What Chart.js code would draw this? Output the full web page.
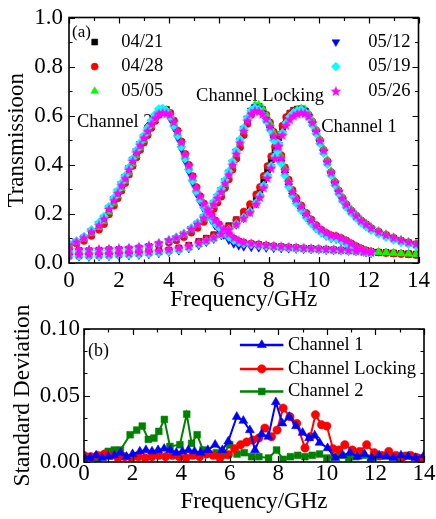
<!DOCTYPE html>
<html><head><meta charset="utf-8">
<script src="https://cdn.jsdelivr.net/npm/chart.js@4.4.1/dist/chart.umd.min.js"></script>
<style>
html,body{margin:0;padding:0;background:#fff;}
#w1{position:absolute;left:0;top:0;width:436px;height:316px;}
#w2{position:absolute;left:0;top:294px;width:436px;height:225px;}
canvas{display:block;}
</style></head><body>
<div id="w1"><canvas id="c1" width="436" height="316"></canvas></div>
<div id="w2"><canvas id="c2" width="436" height="225"></canvas></div>
<script>
// ---------------- DATA: panel (a) ----------------
const dates = ['04/21','04/28','05/05','05/12','05/19','05/26'];
const xTicksA = [0,2,4,6,8,10,12,14];
const yTicksA = [0,0.2,0.4,0.6,0.8,1.0];

const freqCh2 = [0,.3,.6,.9,1.2,1.4,1.6,1.8,1.95,2.1,2.25,2.4,2.55,2.7,2.85,3,3.15,3.3,3.45,3.6,3.75,3.9,4.05,4.2,4.35,4.5,4.65,4.8,4.95,5.1,5.25,5.4,5.55,5.7,5.85,6,6.2,6.4,6.6,6.8,7,7.3,7.6,7.9,8.2,8.5,8.8,9.1,9.4,9.7,10,10.3,10.6,10.9,11.2,11.5,11.8,12.1,12.4,12.7,13,13.3,13.6,13.9];
const freqLock = [0,.4,.8,1.2,1.6,2,2.4,2.8,3.2,3.6,4,4.3,4.6,4.9,5.15,5.4,5.6,5.8,5.95,6.1,6.25,6.4,6.55,6.7,6.85,7,7.15,7.3,7.45,7.6,7.75,7.9,8.05,8.2,8.35,8.5,8.65,8.8,8.95,9.1,9.3,9.5,9.7,9.9,10.1,10.3,10.5,10.7,10.9,11.1,11.3,11.5,11.7,11.9,12.1,12.4,12.7,13,13.3,13.6,13.9];
const freqCh1 = [0,.4,.8,1.2,1.6,2,2.4,2.8,3.2,3.6,4,4.4,4.8,5.2,5.5,5.8,6.1,6.4,6.7,7,7.25,7.5,7.65,7.8,7.95,8.1,8.25,8.4,8.55,8.7,8.85,9,9.15,9.3,9.45,9.6,9.75,9.9,10.05,10.2,10.35,10.5,10.65,10.8,10.95,11.1,11.3,11.5,11.7,11.9,12.1,12.4,12.7,13,13.3,13.6,13.9];

// Channel 2
const ch2_0421 = [.072,.082,.095,.116,.14,.165,.203,.238,.27,.298,.33,.362,.398,.433,.465,.494,.525,.555,.582,.606,.62,.625,.61,.578,.536,.492,.442,.395,.352,.306,.27,.24,.214,.192,.172,.156,.135,.114,.098,.088,.082,.078,.075,.071,.068,.066,.064,.062,.06,.059,.057,.056,.054,.053,.051,.049,.048,.046,.044,.043,.041,.039,.038,.036];
const ch2_0428 = [.07,.08,.09,.11,.135,.158,.198,.233,.263,.294,.325,.36,.395,.43,.46,.49,.52,.55,.578,.603,.615,.618,.612,.58,.54,.496,.445,.4,.354,.31,.273,.243,.216,.195,.174,.158,.136,.115,.1,.089,.083,.079,.076,.072,.069,.066,.064,.062,.06,.058,.057,.055,.053,.052,.05,.049,.047,.045,.043,.042,.04,.038,.037,.035];
const ch2_0505 = [.073,.083,.097,.12,.145,.17,.208,.244,.274,.304,.334,.368,.404,.438,.469,.5,.53,.56,.586,.61,.622,.624,.607,.573,.533,.49,.44,.393,.348,.303,.267,.237,.211,.19,.17,.154,.133,.112,.097,.087,.081,.078,.074,.071,.068,.065,.063,.061,.06,.058,.056,.055,.054,.052,.05,.048,.047,.045,.044,.042,.041,.039,.038,.036];
const ch2_0512 = [.078,.088,.105,.132,.16,.186,.226,.262,.292,.322,.352,.387,.422,.456,.486,.515,.545,.574,.598,.62,.626,.615,.588,.552,.51,.465,.416,.372,.327,.283,.249,.219,.195,.174,.152,.136,.114,.093,.078,.07,.066,.064,.062,.061,.06,.059,.058,.057,.056,.055,.054,.052,.051,.05,.048,.047,.045,.043];
const ch2_0519 = [.08,.09,.108,.136,.165,.19,.23,.266,.296,.326,.356,.39,.425,.46,.49,.52,.55,.58,.605,.628,.63,.62,.594,.558,.518,.473,.424,.38,.335,.29,.256,.226,.2,.18,.16,.145,.125,.106,.092,.083,.078,.075,.071,.068,.066,.064,.062,.06,.059,.057,.056,.054,.053,.051,.049,.048,.046,.044];
const ch2_0526 = [.076,.087,.103,.128,.154,.18,.22,.255,.285,.316,.345,.38,.415,.45,.48,.51,.538,.566,.59,.608,.612,.61,.605,.575,.537,.492,.442,.397,.352,.307,.272,.242,.218,.197,.176,.16,.14,.12,.104,.092,.085,.08,.076,.073,.07,.068,.066,.064,.062,.06,.059,.057,.056,.054,.052,.05,.048,.046];

// Channel Locking
const lock_0421 = [.05,.051,.05,.052,.054,.055,.057,.061,.067,.076,.087,.097,.111,.13,.15,.174,.198,.227,.252,.277,.311,.346,.386,.43,.476,.526,.572,.61,.632,.638,.625,.6,.567,.527,.483,.433,.382,.332,.291,.26,.23,.2,.174,.151,.133,.12,.11,.106,.099,.09,.078,.067,.058,.051,.046,.043,.041,.039,.037,.035,.033];
const lock_0428 = [.049,.05,.05,.051,.052,.054,.056,.059,.064,.072,.083,.092,.105,.123,.143,.167,.19,.22,.245,.27,.305,.34,.38,.424,.47,.52,.566,.603,.625,.63,.625,.605,.573,.535,.49,.44,.39,.34,.298,.266,.235,.205,.178,.155,.136,.123,.113,.11,.102,.092,.08,.069,.06,.052,.047,.044,.041,.039,.037,.035,.033];
const lock_0505 = [.051,.05,.052,.053,.054,.056,.059,.063,.069,.079,.09,.1,.115,.135,.155,.18,.205,.235,.26,.286,.321,.357,.397,.443,.49,.54,.588,.625,.645,.645,.632,.606,.57,.53,.485,.435,.384,.333,.292,.262,.231,.2,.175,.152,.134,.121,.111,.108,.1,.091,.079,.068,.059,.051,.047,.045,.043,.041,.039,.037,.035];
const lock_0512 = [.047,.047,.048,.049,.05,.052,.055,.059,.066,.077,.09,.102,.118,.14,.162,.188,.214,.246,.272,.298,.334,.37,.41,.455,.5,.548,.59,.622,.636,.63,.61,.582,.545,.505,.46,.41,.362,.313,.275,.245,.215,.186,.162,.14,.123,.11,.1,.097,.088,.078,.066,.056,.048,.042,.039];
const lock_0519 = [.048,.049,.05,.05,.052,.054,.057,.061,.068,.08,.093,.105,.121,.143,.165,.192,.218,.25,.276,.302,.338,.374,.414,.458,.503,.55,.592,.622,.632,.625,.606,.578,.542,.5,.455,.405,.357,.31,.272,.243,.214,.185,.161,.14,.123,.111,.101,.098,.09,.08,.069,.058,.05,.044,.04];
const lock_0526 = [.055,.056,.056,.057,.058,.06,.062,.066,.072,.082,.094,.104,.119,.139,.159,.184,.209,.24,.265,.29,.325,.36,.4,.445,.49,.538,.58,.608,.62,.618,.607,.587,.556,.518,.475,.427,.378,.33,.29,.26,.23,.2,.175,.153,.136,.123,.113,.11,.101,.091,.08,.068,.058,.05,.045];

// Channel 1
const ch1_0421 = [.029,.03,.031,.031,.033,.035,.037,.039,.043,.047,.053,.061,.072,.088,.101,.115,.131,.152,.176,.204,.23,.266,.297,.338,.378,.419,.46,.51,.552,.588,.61,.622,.627,.627,.618,.598,.568,.534,.494,.454,.41,.366,.326,.291,.261,.236,.211,.19,.171,.156,.141,.126,.113,.101,.091,.083,.076];
const ch1_0428 = [.031,.031,.03,.032,.033,.035,.037,.04,.042,.046,.052,.06,.07,.086,.099,.112,.128,.148,.175,.21,.24,.28,.31,.355,.395,.435,.475,.52,.56,.595,.61,.62,.625,.628,.622,.604,.576,.541,.501,.461,.416,.371,.331,.296,.266,.24,.215,.194,.174,.158,.143,.128,.115,.103,.092,.084,.077];
const ch1_0505 = [.03,.031,.03,.031,.032,.033,.035,.038,.04,.044,.049,.055,.063,.076,.088,.1,.115,.134,.157,.183,.208,.243,.273,.313,.353,.393,.433,.482,.528,.568,.596,.613,.624,.629,.627,.61,.58,.546,.506,.466,.42,.375,.335,.3,.27,.244,.219,.198,.178,.162,.147,.131,.118,.105,.095,.086,.079];
const ch1_0512 = [.024,.025,.024,.026,.027,.028,.03,.032,.035,.039,.044,.05,.059,.072,.084,.097,.112,.132,.155,.182,.207,.242,.272,.312,.352,.392,.432,.482,.527,.567,.594,.61,.62,.626,.62,.597,.566,.53,.49,.45,.405,.36,.32,.285,.255,.23,.206,.186,.166,.151,.136,.121,.108,.096,.086,.078,.071];
const ch1_0519 = [.027,.028,.027,.028,.029,.031,.033,.035,.038,.042,.047,.054,.063,.077,.089,.101,.116,.136,.159,.186,.211,.246,.276,.316,.356,.396,.436,.486,.531,.571,.597,.612,.621,.625,.615,.593,.562,.527,.487,.447,.402,.357,.317,.282,.252,.227,.203,.183,.163,.148,.133,.118,.105,.094,.084,.076,.069];
const ch1_0526 = [.034,.035,.035,.036,.037,.039,.041,.043,.046,.05,.055,.061,.069,.082,.093,.105,.119,.137,.158,.183,.206,.24,.268,.307,.346,.386,.426,.476,.521,.561,.585,.6,.608,.612,.61,.598,.572,.538,.499,.459,.414,.369,.329,.294,.264,.239,.214,.193,.173,.158,.143,.128,.115,.103,.093,.085,.078];

// ---------------- DATA: panel (b) ----------------
const xTicksB = [0,2,4,6,8,10,12,14];
const yTicksB = [0,0.05,0.10];
const sdSeries = ['Channel 1','Channel Locking','Channel 2'];
const sdFreqCh1 = [0,.25,.5,.75,1,1.25,1.5,1.75,2,2.3,2.55,2.8,3.05,3.3,3.55,3.8,4.05,4.3,4.55,4.8,5.1,5.4,5.7,5.94,6.29,6.56,6.83,7.04,7.31,7.59,7.9,8.17,8.45,8.73,9,9.27,9.5,9.7,10.03,10.35,10.65,10.95,11.25,11.55,11.85,12.15,12.45,12.75,13.05,13.35,13.65,14];
const sdCh1 = [.004,.003,.005,.003,.004,.005,.007,.004,.006,.008,.009,.008,.009,.01,.009,.007,.008,.009,.008,.007,.009,.013,.009,.0155,.034,.031,.024,.009,.021,.019,.045,.029,.034,.027,.022,.018,.02,.0145,.0105,.003,.005,.007,.004,.006,.003,.005,.004,.003,.005,.004,.003,.005];
const sdFreqLock = [0,.28,.56,.84,1.12,1.4,1.68,1.96,2.24,2.52,2.8,3.08,3.36,3.64,3.92,4.2,4.48,4.76,5.04,5.32,5.6,5.95,6.2,6.45,6.7,6.95,7.2,7.45,7.72,7.95,8.2,8.48,8.76,9.1,9.32,9.53,9.78,10,10.25,10.5,10.74,11.05,11.35,11.64,11.95,12.25,12.55,12.85,13.15,13.45,13.75,14];
const sdLock = [.005,.004,.005,.006,.005,.003,.004,.003,.004,.003,.004,.005,.004,.005,.004,.003,.005,.004,.006,.005,.003,.0055,.01,.013,.015,.0165,.018,.0255,.019,.024,.0405,.034,.029,.0105,.019,.0355,.028,.027,.01,.009,.013,.009,.008,.013,.007,.005,.008,.005,.004,.005,.003,.002];
const sdFreqCh2 = [0,.28,.56,.8,1,1.25,1.5,1.9,2.17,2.4,2.65,2.88,3.08,3.31,3.54,3.95,4.23,4.43,4.66,4.9,5.15,5.46,5.72,6,6.3,6.6,6.9,7.2,7.6,7.93,8.2,8.5,8.8,9.1,9.4,9.7,10,10.3,10.6,10.9,11.2,11.5,11.8,12.1,12.4,12.7,13,13.3,13.6,13.9];
const sdCh2 = [.003,.004,.003,.005,.008,.009,.009,.0205,.024,.027,.017,.018,.023,.032,.0117,.013,.036,.014,.0205,.009,.006,.007,.005,.013,.006,.007,.004,.004,.003,.009,.002,.004,.005,.004,.005,.006,.003,.004,.005,.003,.004,.005,.003,.004,.005,.004,.003,.005,.004,.003];

// ---------------- STYLE ----------------
const SERIF = '"Liberation Serif", "Times New Roman", serif';
function makeStar(color) {
  const c = document.createElement('canvas');
  c.width = 12; c.height = 12;
  const g = c.getContext('2d');
  g.fillStyle = color;
  g.beginPath();
  for (let k = 0; k < 10; k++) {
    const r = k % 2 === 0 ? 5.6 : 2.4;
    const a = -Math.PI / 2 + k * Math.PI / 5;
    const px = 6 + r * Math.cos(a), py = 6.4 + r * Math.sin(a);
    if (k === 0) g.moveTo(px, py); else g.lineTo(px, py);
  }
  g.closePath(); g.fill();
  return c;
}
const starImg = makeStar('#ff00ff');
const dateStyle = [
  {color:'#000000', style:'rect', rot:0, r:4.2},
  {color:'#ff0000', style:'circle', rot:0, r:3.5},
  {color:'#00ff00', style:'triangle', rot:0, r:4.4},
  {color:'#0000ff', style:'triangle', rot:180, r:4.4},
  {color:'#00ffff', style:'rectRot', rot:0, r:4.4},
  {color:'#ff00ff', style:starImg, rot:0, r:6},
];
const ch2ByDate = [ch2_0421, ch2_0428, ch2_0505, ch2_0512, ch2_0519, ch2_0526];
const lockByDate = [lock_0421, lock_0428, lock_0505, lock_0512, lock_0519, lock_0526];
const ch1ByDate = [ch1_0421, ch1_0428, ch1_0505, ch1_0512, ch1_0519, ch1_0526];

function pts(fx, vals) { return vals.map((v, i) => ({x: fx[i], y: v})); }

const datasetsA = [];
dates.forEach((d, i) => {
  const s = dateStyle[i];
  [[freqCh2, ch2ByDate[i]], [freqLock, lockByDate[i]], [freqCh1, ch1ByDate[i]]].forEach(([fx, vals]) => {
    datasetsA.push({
      label: d, data: pts(fx, vals), showLine: false,
      pointStyle: s.style, rotation: s.rot, pointRadius: s.r, pointHoverRadius: s.r,
      backgroundColor: s.color, borderColor: s.color, borderWidth: 0.6,
      order: 6 - i
    });
  });
});

function drawMk(ctx, s, x, y) {
  ctx.save();
  ctx.fillStyle = s.color; ctx.strokeStyle = s.color; ctx.lineWidth = 0.6;
  Chart.helpers.drawPoint(ctx, {pointStyle: s.style, rotation: s.rot, radius: s.r, borderWidth: 0.6}, x, y);
  ctx.restore();
}

function frameAndTicks(chart, xStep, xMajorEvery, xMax, yVals, yMajorEvery) {
  const {ctx, chartArea: a, scales: {x, y}} = chart;
  ctx.save();
  ctx.strokeStyle = '#000';
  ctx.lineWidth = 1.2;
  ctx.beginPath();
  let k = 0;
  for (let v = 0; v <= xMax + 1e-9; v += xStep, k++) {
    const px = Math.round(x.getPixelForValue(v)) + 0.5;
    const L = k % xMajorEvery === 0 ? 6 : 3.5;
    ctx.moveTo(px, a.bottom); ctx.lineTo(px, a.bottom - L);
    ctx.moveTo(px, a.top); ctx.lineTo(px, a.top + L);
  }
  yVals.forEach((v, j) => {
    const py = Math.round(y.getPixelForValue(v)) + 0.5;
    const L = j % yMajorEvery === 0 ? 6 : 3.5;
    ctx.moveTo(a.left, py); ctx.lineTo(a.left + L, py);
    ctx.moveTo(a.right, py); ctx.lineTo(a.right - L, py);
  });
  ctx.stroke();
  ctx.lineWidth = 1.6;
  ctx.strokeRect(a.left, a.top, a.right - a.left, a.bottom - a.top);
  ctx.restore();
}

const minorA = [0,.1,.2,.3,.4,.5,.6,.7,.8,.9,1.0];
const minorB = [0,1/60,2/60,.05,4/60,5/60,.1];

const decorA = {
  id: 'decorA',
  beforeDatasetsDraw(chart) {
    const {ctx, scales: {x, y}} = chart;
    ctx.save();
    ctx.fillStyle = '#000';
    ctx.textBaseline = 'middle';
    ctx.textAlign = 'left';
    ctx.font = '17px ' + SERIF;
    ctx.fillText('(a)', x.getPixelForValue(0.12), y.getPixelForValue(0.94));
    ctx.font = '18.5px ' + SERIF;
    ctx.fillText('Channel 2', x.getPixelForValue(0.32), y.getPixelForValue(0.572));
    ctx.fillText('Channel Locking', x.getPixelForValue(5.09), y.getPixelForValue(0.68));
    ctx.fillText('Channel 1', x.getPixelForValue(10.1), y.getPixelForValue(0.552));
    ctx.restore();
  },
  afterDraw(chart) {
    frameAndTicks(chart, 1, 2, 14, minorA, 2);
    const {ctx, scales: {x, y}} = chart;
    ctx.save();
    ctx.textBaseline = 'middle';
    ctx.textAlign = 'left';
    ctx.font = '18.5px ' + SERIF;
    const rowsV = [0.9, 0.8, 0.7];
    dates.forEach((d, i) => {
      const col = i < 3 ? 0 : 1;
      const row = i % 3;
      const mx = x.getPixelForValue(col ? 10.69 : 1.03);
      const tx = x.getPixelForValue(col ? 11.99 : 2.09);
      const py = y.getPixelForValue(rowsV[row]);
      drawMk(ctx, dateStyle[i], mx, py);
      ctx.fillStyle = '#000';
      ctx.fillText(d, tx, py);
    });
    ctx.restore();
  }
};

new Chart(document.getElementById('c1'), {
  type: 'scatter',
  data: {datasets: datasetsA},
  options: {
    responsive: false, animation: false, devicePixelRatio: 1,
    layout: {padding: {top: 13, right: 12, left: 0, bottom: 0}},
    plugins: {legend: {display: false}, tooltip: {enabled: false}},
    scales: {
      x: {
        type: 'linear', min: 0, max: 14,
        afterBuildTicks: s => { s.ticks = xTicksA.map(v => ({value: v})); },
        afterFit: s => { s.height = 53; },
        grid: {display: false, drawTicks: false}, border: {display: false},
        ticks: {color: '#000', padding: 6, font: {family: SERIF, size: 23, lineHeight: 1}, maxRotation: 0, autoSkip: false},
        title: {display: true, text: 'Frequency/GHz', color: '#000', font: {family: SERIF, size: 23}, padding: {top: 0, bottom: 2}}
      },
      y: {
        type: 'linear', min: 0, max: 1,
        afterBuildTicks: s => { s.ticks = yTicksA.map(v => ({value: v})); },
        afterFit: s => { s.width = 69; },
        grid: {display: false, drawTicks: false}, border: {display: false},
        ticks: {color: '#000', padding: 6, font: {family: SERIF, size: 23, lineHeight: 1}, callback: v => Number(v).toFixed(1)},
        title: {display: true, text: 'Transmissioon', color: '#000', font: {family: SERIF, size: 23}, padding: {top: 2.7, bottom: 0}}
      }
    }
  },
  plugins: [decorA]
});

// ---------------- panel (b) ----------------
const sdStyle = [
  {color:'#0000ff', style:'triangle', rot:0, r:5.2},
  {color:'#ff0000', style:'circle', rot:0, r:4.2},
  {color:'#008000', style:'rect', rot:0, r:4.8},
];
const sdData = [pts(sdFreqCh1, sdCh1), pts(sdFreqLock, sdLock), pts(sdFreqCh2, sdCh2)];
const datasetsB = sdSeries.map((name, i) => ({
  label: name, data: sdData[i], showLine: true, borderColor: sdStyle[i].color, backgroundColor: sdStyle[i].color,
  borderWidth: 2, pointStyle: sdStyle[i].style, pointRadius: sdStyle[i].r, pointHoverRadius: sdStyle[i].r,
  pointBorderWidth: 0.5, tension: 0, order: i
}));

const decorB = {
  id: 'decorB',
  afterDraw(chart) {
    frameAndTicks(chart, 1, 2, 14, minorB, 3);
    const {ctx, scales: {x, y}} = chart;
    ctx.save();
    ctx.fillStyle = '#000';
    ctx.textBaseline = 'middle';
    ctx.textAlign = 'left';
    ctx.font = '18px ' + SERIF;
    ctx.fillText('(b)', x.getPixelForValue(0.16), y.getPixelForValue(0.0835));
    ctx.font = '18.5px ' + SERIF;
    const rowsV = [0.088, 0.070, 0.053];
    sdSeries.forEach((name, i) => {
      const py = y.getPixelForValue(rowsV[i]);
      const x0 = x.getPixelForValue(6.42), x1 = x.getPixelForValue(8.21);
      ctx.strokeStyle = sdStyle[i].color; ctx.lineWidth = 2.5;
      ctx.beginPath(); ctx.moveTo(x0, py); ctx.lineTo(x1, py); ctx.stroke();
      drawMk(ctx, sdStyle[i], x.getPixelForValue(7.32), py);
      ctx.fillStyle = '#000';
      ctx.fillText(name, x.getPixelForValue(8.4), py);
    });
    ctx.restore();
  }
};

new Chart(document.getElementById('c2'), {
  type: 'scatter',
  data: {datasets: datasetsB},
  options: {
    responsive: false, animation: false, devicePixelRatio: 1,
    layout: {padding: {top: 35, right: 12, left: 0, bottom: 0}},
    plugins: {legend: {display: false}, tooltip: {enabled: false}},
    scales: {
      x: {
        type: 'linear', min: 0, max: 14,
        afterBuildTicks: s => { s.ticks = xTicksB.map(v => ({value: v})); },
        afterFit: s => { s.height = 57; },
        grid: {display: false, drawTicks: false}, border: {display: false},
        ticks: {color: '#000', padding: 0.5, font: {family: SERIF, size: 23, lineHeight: 1}, maxRotation: 0, autoSkip: false},
        title: {display: true, text: 'Frequency/GHz', color: '#000', font: {family: SERIF, size: 23}, padding: {top: 0, bottom: 3}}
      },
      y: {
        type: 'linear', min: 0, max: 0.1,
        afterBuildTicks: s => { s.ticks = yTicksB.map(v => ({value: v})); },
        afterFit: s => { s.width = 84; },
        grid: {display: false, drawTicks: false}, border: {display: false},
        ticks: {color: '#000', padding: 4, font: {family: SERIF, size: 23, lineHeight: 1}, callback: v => Number(v).toFixed(2)},
        title: {display: true, text: 'Standard Deviation', color: '#000', font: {family: SERIF, size: 23.5}, padding: {top: 8.5, bottom: 0}}
      }
    }
  },
  plugins: [decorB]
});
</script>
</body></html>
